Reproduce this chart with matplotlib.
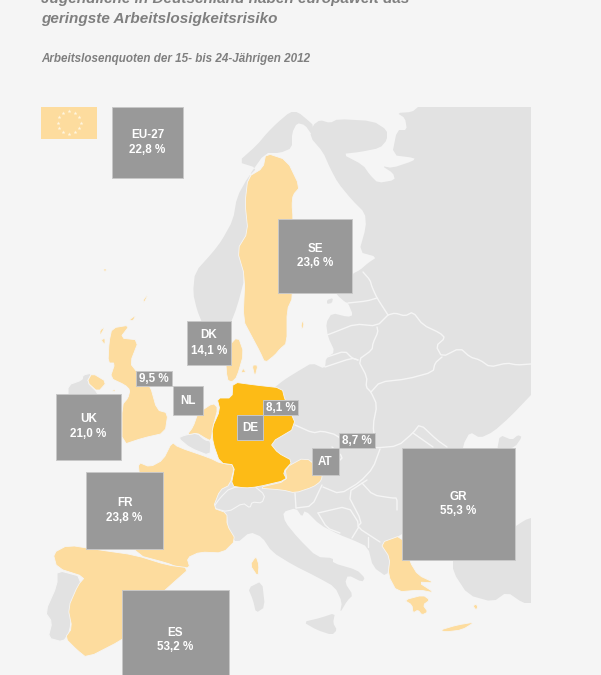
import numpy as np
import matplotlib
matplotlib.use("Agg")
import matplotlib.pyplot as plt
from matplotlib.patches import Polygon, Rectangle

plt.rcParams['font.family'] = ['Liberation Sans', 'DejaVu Sans']

# ---- data
codes  = ['EU-27', 'SE', 'DK', 'UK', 'FR', 'ES', 'GR']
values = [22.8, 23.6, 14.1, 21.0, 23.8, 53.2, 55.3]
small_codes  = ['NL', 'DE', 'AT']
small_values = [9.5, 8.1, 8.7]
title_lines = ['Jugendliche in Deutschland haben europaweit das', 'geringste Arbeitslosigkeitsrisiko']
subtitle = 'Arbeitslosenquoten der 15- bis 24-Jährigen 2012'

# ---- layout (pixels): x0, y0, x1, y1
box_xy = [(112,107,183,178),(278,219,352,293),(187,321,231,365),(56,394,121,460),
          (86,472,163,549),(122,590,229,690),(402,448,515,560)]
small_box_xy = [(173,386,203,415),(237,415,263,440),(312,448,339,475)]
small_lab_xy = [(136,371,172,386),(263,400,298,415),(339,433,375,448)]

BG='#f5f5f5'; LAND='#e2e2e2'; LIGHT='#fddc9e'; DEEP='#fdbb16'; BOX='#999999'

# ---- map outlines (pixels)
main = [(418,107),(418,107),(531,107),(531,107),(531,395),(531,395),(510,417),(493,432),(480,438),(470,432),(463,445),(460,470),
        (420,520),(402,535),(380,543),(390,558),(387,577),(373,567),(368,547),(353,540),(340,535),(320,525),(305,510),(302,517),(296,508),
        (283,512),(285,522),(298,538),(317,557),(333,558),(333,563),(357,570),(365,578),(362,582),(348,575),(345,583),(353,595),(347,601),(340,613),(342,602),
        (335,587),(317,577),(293,565),(272,552),(262,537),(250,532),(237,543),(228,533),(227,513),(213,508),(220,490),(240,470),(260,400),(280,383),(287,378),(300,370),(312,363),(325,369),
        (326,358),(335,352),(328,337),(326,323),(332,313),(348,317),(353,315),(348,303),(345,302),(337,295),(335,290),(352,290),(352,274),(360,270),(368,263),(377,257),
        (359,252),(366,227),(365,213),(352,200),(338,183),(330,168),(323,152),(310,137),(313,125),(320,120),(330,123),(338,119),(373,121),(387,130),(387,140),(380,148),
        (360,152),(342,154),(363,165),(370,175),(378,183),(395,180),(393,173),(382,166),(392,168),(413,161),(415,158),(392,155),(397,130),(407,130),(405,118),(397,113),(412,112)]
norway = [(265,153),(280,153),(292,148),(292,133),(297,123),(305,125),(312,135),(313,125),(310,122),(298,112),(290,112),(277,123),(267,133),(257,145),(238,162),
          (257,168),(248,177),(237,197),(233,220),(222,240),(213,252),(195,272),(193,293),(197,310),(203,325),(230,325),(237,307),(245,277),(237,250),(248,232),(245,203),(248,177)]
turkey = [(453,555),(453,572),(468,595),(493,602),(507,592),(523,603),(531,603),(531,603),(531,518),(531,518),(525,520),(510,530),(470,530)]
crimea = [(497,450),(500,435),(512,440),(518,435),(522,437),(515,447),(503,450)]
sicily = [(303,622),(320,618),(335,613),(333,623),(337,630),(332,635),(317,630)]
sardinia = [(248,588),(262,581),(265,607),(256,613),(253,600)]
portugal = [(57,570),(83,577),(72,605),(70,632),(63,642),(48,638),(52,622),(45,612),(57,585)]
ireland = [(68,385),(82,380),(83,375),(92,373),(87,382),(98,393),(98,400),(68,400)]
belgium = [(178,438),(185,435),(197,433),(205,440),(211,441),(210,456),(190,448)]
swiss = [(220,498),(230,488),(253,485),(265,495),(262,503),(252,502),(250,508),(243,503),(228,512),(213,508)]
estonian_isle = [(327,300),(333,298),(332,303),(327,304)]

light_polys = [
 [(266,153),(287,160),(300,187),(293,195),(292,205),(293,217),(293,297),(287,310),(287,343),(280,349),(275,355),(265,363),(260,352),(252,337),(243,320),(245,277),(237,250),(248,232),(245,203),(248,177),(263,168)],
 [(172,442),(163,460),(150,467),(138,462),(140,480),(125,530),(137,555),(167,563),(177,567),(190,568),(187,558),(200,552),(223,553),(236,540),(227,525),(227,513),(213,508),(220,490),(230,485),(235,465),(220,463),(210,458),(178,447)],
 [(53,553),(68,545),(100,550),(135,555),(167,565),(190,568),(173,583),(163,592),(150,620),(122,640),(87,658),(77,650),(65,638),(72,628),(68,608),(78,585),(85,577),(57,568)],
 [(112,328),(130,325),(120,338),(139,340),(130,363),(137,372),(150,385),(157,410),(168,413),(165,433),(143,438),(122,445),(122,405),(128,398),(130,390),(125,385),(110,378),(115,363),(108,363),(109,342)],
 [(87,382),(92,373),(107,382),(98,392)],
 [(238,336),(244,353),(237,377),(232,382),(227,380),(225,350)],
 [(193,427),(198,413),(213,403),(218,408),(213,427),(211,441),(205,438),(197,433),(187,435)],
 [(285,468),(305,457),(322,470),(322,478),(320,482),(313,487),(295,493),(283,490),(257,488),(287,481)],
 [(380,543),(402,535),(410,562),(418,575),(435,583),(418,582),(435,593),(420,590),(397,592),(388,575),(390,558)],
 [(404,600),(423,595),(430,600),(423,605),(428,612),(422,615),(418,610),(413,613),(412,605)],
 [(440,630),(457,625),(475,622),(462,630),(445,632)],
 [(473,606),(476,604),(478,607),(476,610)],
 [(256,556),(250,565),(258,577),(259,565)],
 [(303,320),(304,325),(302,330),(301,325)],
 [(103,269),(107,269),(105,272)],
 [(149,293),(143,300),(144,303)],
 [(129,320),(136,315),(133,321)],
 [(100,330),(105,327),(100,336)],
 [(101,340),(105,338),(105,345)],
 [(243,368),(246,372),(241,373)],
 [(252,365),(258,365),(255,377)],
 [(112,391),(115,389),(115,392)],
]
germany = [(233,382),(255,385),(282,388),(285,400),(297,427),(270,443),(278,453),(293,461),(283,472),(287,480),(257,487),(245,488),(231,486),(235,465),(220,463),(213,443),(212,428),(220,410),(217,398),(232,398)]

borders = [
 [(348,303),(367,301),(377,298)],
 [(363,272),(370,280),(372,287),(377,298),(388,315)],
 [(327,335),(335,332),(355,324),(377,326),(388,315)],
 [(388,315),(395,313),(405,316),(413,312),(423,325),(440,333),(445,338),(436,346),(442,357),(460,348),(470,357),(480,360),(490,367),(507,363),(517,365),(531,364)],
 [(442,357),(435,363),(433,372),(407,379),(380,382),(371,392)],
 [(377,327),(378,332),(373,343),(372,350),(358,360),(367,377),(366,387),(371,392),(377,405),(373,425),(375,443)],
 [(358,360),(352,358),(345,351),(327,357)],
 [(325,367),(352,358),(358,360)],
 [(295,425),(313,433),(322,431),(337,435),(345,445),(375,448),(398,446),(413,433),(420,424),(437,440),(447,447)],
 [(413,433),(433,447)],
 [(332,447),(343,457),(338,462)],
 [(380,449),(373,468),(360,482),(340,494),(323,487)],
 [(322,485),(312,506),(296,508)],
 [(295,493),(296,508)],
 [(318,513),(348,506),(360,525),(352,538)],
 [(318,513),(327,528),(340,533)],
 [(367,480),(347,493),(362,522),(357,527),(380,542)],
 [(362,483),(373,495),(392,498),(397,498),(397,510)],
 [(368,537),(368,547)],
]

# ---- drawing
fig = plt.figure(figsize=(6.01,6.75), dpi=100, facecolor=BG)
ax = fig.add_axes([0,0,1,1]); ax.set_xlim(0,601); ax.set_ylim(675,0); ax.axis('off')

def smooth(pts, closed=True, n=1):
    p = np.array(pts, float)
    for _ in range(n):
        q = np.roll(p,-1,axis=0) if closed else p[1:]
        a = p if closed else p[:-1]
        mid = np.empty((2*len(a),2)); mid[0::2]=.8*a+.2*q; mid[1::2]=.2*a+.8*q
        p = mid if closed else np.vstack([p[0],mid,p[-1]])
    return p

for pts in [main,norway,turkey,crimea,sicily,sardinia,estonian_isle]:
    ax.add_patch(Polygon(smooth(pts),fc=LAND,ec='none',zorder=1))
for l in borders:
    s = smooth(l,closed=False)
    ax.plot(s[:,0],s[:,1],color=BG,lw=1.0,zorder=2,solid_capstyle='round')
for pts in [portugal,ireland,belgium,swiss]:
    ax.add_patch(Polygon(smooth(pts),fc=LAND,ec=BG,lw=.8,zorder=2.5))
for pts in light_polys:
    ax.add_patch(Polygon(smooth(pts),fc=LIGHT,ec=BG,lw=.6,zorder=3))
ax.add_patch(Polygon(smooth(germany),fc=DEEP,ec=BG,lw=.6,zorder=4))

# flag
ax.add_patch(Rectangle((41,107),56,32,fc=LIGHT,ec='none',zorder=3))
ang = np.arange(12)*np.pi/6
ax.scatter(69+11.5*np.cos(ang),122.5+11.5*np.sin(ang),marker='*',s=9,c='#fff6e0',linewidths=0,zorder=4)

def box(xy):
    x0,y0,x1,y1 = xy
    ax.add_patch(Rectangle((x0,y0),x1-x0,y1-y0,fc=BOX,ec='#c8c8c8',lw=.7,zorder=5))

def fmt(v): return f'{v:.1f}'.replace('.',',')+' %'
lab = dict(color='white',fontsize=8.4,ha='center',va='center',zorder=6,fontweight='bold')
for c,v,xy in zip(codes,values,box_xy):
    box(xy)
    x0,y0,x1,y1 = xy
    yc = (y0+min(y1,y0+(x1-x0)))/2
    ax.text((x0+x1)/2,yc-7.5,c,**lab)
    ax.text((x0+x1)/2,yc+7.5,fmt(v),**lab)
for c,v,xy,lxy in zip(small_codes,small_values,small_box_xy,small_lab_xy):
    box(xy); box(lxy)
    ax.text((xy[0]+xy[2])/2,(xy[1]+xy[3])/2+.5,c,**lab)
    ax.text((lxy[0]+lxy[2])/2,(lxy[1]+lxy[3])/2+.5,fmt(v),**lab)

# texts
ts = dict(color='#7f7f7f',fontweight='bold',fontstyle='italic',ha='left',va='baseline',zorder=7)
ax.text(41,3,title_lines[0],fontsize=11,**ts)
ax.text(41,23,title_lines[1],fontsize=11,**ts)
ax.text(41,62,subtitle,fontsize=8.35,**ts)
fig.savefig('out.png',dpi=100,facecolor=BG)
